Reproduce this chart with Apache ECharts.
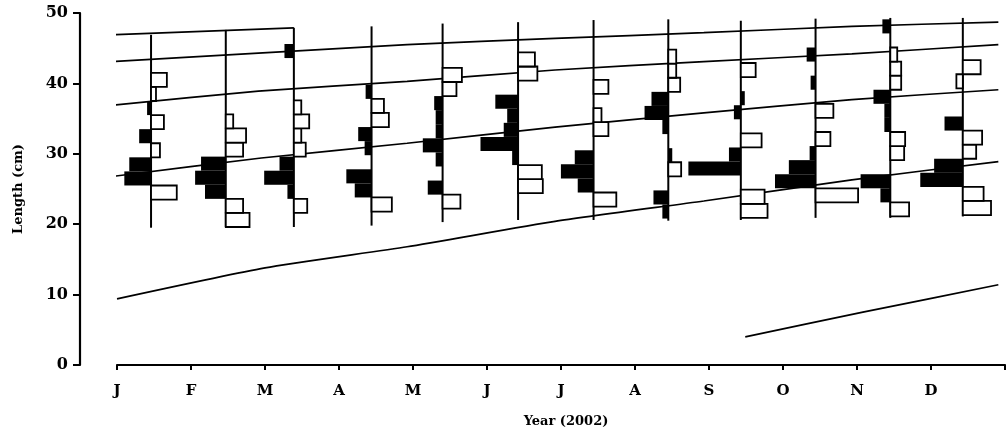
<!DOCTYPE html>
<html><head><meta charset="utf-8">
<script src="https://cdn.jsdelivr.net/npm/echarts@6/dist/echarts.min.js"></script>
<style>html,body{margin:0;padding:0;background:#fff}#c{width:1008px;height:434px}</style>
</head><body><div id="c"></div>
<script>
// ---- axis / category data ----
const monthLabels = ['J','F','M','A','M','J','J','A','S','O','N','D'];
const yTicks = [0, 10, 20, 30, 40, 50];

// sampling date of each monthly histogram (months after 1 Jan 2002)
const sampleTimes = [0.46, 1.47, 2.39, 3.44, 4.40, 5.42, 6.44, 7.45, 8.43, 9.44, 10.45, 11.43];
// length range (cm) covered by each histogram's vertical axis
const baselineBottom = [19.5, 19.6, 19.6, 19.8, 20.3, 20.6, 20.6, 20.5, 20.6, 20.9, 20.9, 21.1];
const baselineTop    = [46.9, 47.6, 47.9, 48.1, 48.5, 48.7, 49.0, 49.1, 48.9, 49.2, 49.3, 49.3];
// lower bound (cm) of the first 2-cm length class of each histogram
const classStart     = [19.5, 19.6, 19.6, 19.8, 20.2, 20.4, 20.5, 20.8, 20.9, 21.1, 21.1, 21.3];

// restructured frequencies per length class (from the lowest class upward)
// black bars = peaks (drawn to the left), white bars = troughs (drawn to the right)
const blackBars = [
  [0, 0, 0, 2.7, 2.2, 0, 1.2, 0, 0.4, 0, 0],
  [0, 0, 2.1, 3.1, 2.5, 0, 0, 0],
  [0, 0, 0.65, 3.0, 1.45, 0, 0, 0, 0, 0, 0, 0, 0.95],
  [0, 0, 1.7, 2.55, 0, 0.7, 1.35, 0, 0, 0.6],
  [0, 0, 1.5, 0, 0.7, 2.0, 0.7, 0.7, 0.85, 0, 0],
  [0, 0, 0, 0, 0.6, 3.8, 1.45, 1.1, 2.3, 0, 0, 0],
  [0, 0, 1.6, 3.3, 1.9, 0, 0, 0, 0, 0],
  [0.6, 1.5, 0, 0, -0.4, 0, 0.6, 2.4, 1.7, 0, 0, 0],
  [0, 0, 0, 5.3, 1.2, 0, 0, 0.7, -0.4, 0, 0],
  [0, 0, 4.1, 2.7, 0.6, 0, 0, 0, 0, 0.5, 0, 0.9],
  [0, 1.0, 3.0, 0, 0, 0, 0.6, 0.6, 1.7, 0, 0, 0, 0, 0.8],
  [0, 0, 4.3, 2.9, 0, 0, 1.85, 0, 0, 0, 0]
];
const whiteBars = [
  [0, 0, 2.6, 0, 0, 0.9, 0, 1.3, 0, 0.5, 1.6],
  [2.4, 1.75, 0, 0, 0, 1.75, 2.05, 0.75],
  [0, 1.35, 0, 0, 0, 1.2, 0.75, 1.55, 0.75, 0, 0, 0, 0],
  [0, 2.05, 0, 0, 0, 0, 0, 1.75, 1.25, 0],
  [0, 1.8, 0, 0, 0, 0, 0, 0, 0, 1.4, 1.95],
  [0, 0, 2.5, 2.4, 0, 0, 0, 0, 0, 0, 1.95, 1.7],
  [0, 2.3, 0, 0, 0, 0, 1.5, 0.8, 0, 1.5],
  [0, 0, 0, 1.3, 0, 0, 0, 0, 0, 1.2, 0.8, 0.8],
  [2.7, 2.4, 0, 0, 0, 2.1, 0, 0, 0, 0, 1.5],
  [0, 4.3, 0, 0, 0, 1.5, 0, 1.8, 0, 0, 0, 0],
  [1.9, 0, 0, 0, 1.4, 1.5, 0, 0, 0, 1.1, 1.1, 0.7, 0, 0],
  [2.85, 2.1, 0, 0, 1.35, 1.95, 0, 0, 0, -0.65, 1.8]
];

// growth curves: [time (months), length (cm)]
const growth1 = [[-0.05, 46.9], [2.39, 47.9]];
const growth2 = [[-0.05, 43.1], [1.91, 44.3], [3.92, 45.5], [5.92, 46.4], [7.93, 47.2], [9.93, 48.1], [11.91, 48.7]];
const growth3 = [[-0.05, 36.9], [1.91, 38.9], [3.92, 40.3], [5.92, 41.9], [7.93, 43.1], [9.93, 44.2], [11.91, 45.5]];
const growth4 = [[-0.05, 26.8], [1.95, 29.4], [3.92, 31.5], [5.92, 33.8], [7.93, 35.8], [9.93, 37.7], [11.91, 39.1]];
const growth5 = [[0, 9.4], [2.0, 13.8], [3.92, 16.8], [5.92, 20.4], [7.93, 23.3], [9.93, 26.3], [11.91, 28.9]];
const growth6 = [[8.49, 4.0], [10.08, 7.5], [11.91, 11.4]];

// ---- drawing constants ----
const CLASS_WIDTH = 2;       // cm
const BAR_SCALE = 0.1337;    // months of x-axis per frequency unit
const FONT = "'DejaVu Serif', 'Liberation Serif', serif";

const barData = [];
sampleTimes.forEach((t, m) => {
  blackBars[m].forEach((f, k) => {
    if (f) barData.push([t, classStart[m] + k * CLASS_WIDTH, classStart[m] + (k + 1) * CLASS_WIDTH, f, 0]);
  });
  whiteBars[m].forEach((f, k) => {
    if (f) barData.push([t, classStart[m] + k * CLASS_WIDTH, classStart[m] + (k + 1) * CLASS_WIDTH, f, 1]);
  });
});
const baseData = sampleTimes.map((t, m) => [t, baselineBottom[m], baselineTop[m]]);

const chart = echarts.init(document.getElementById('c'), null, {renderer: 'canvas'});
const lineSeries = [growth1, growth2, growth3, growth4, growth5, growth6].map(d => ({
  type: 'line', data: d, symbol: 'none', clip: false, smooth: 0.2, z: 2,
  lineStyle: {color: '#000', width: 1.7}, silent: true, animation: false
}));

chart.setOption({
  animation: false,
  backgroundColor: '#fff',
  grid: {left: 117, right: -7, top: 13, bottom: 69, containLabel: false},
  xAxis: {
    type: 'value', min: 0, max: 12, interval: 1,
    name: 'Year (2002)', nameLocation: 'middle', nameGap: 50,
    nameTextStyle: {fontFamily: FONT, fontWeight: 'bold', fontSize: 13, color: '#000', padding: [0, 0, 0, 10]},
    axisLine: {show: true, onZero: false, lineStyle: {color: '#000', width: 2.2}},
    axisTick: {show: true, length: 5, lineStyle: {color: '#000', width: 2}},
    axisLabel: {
      color: '#000', fontFamily: FONT, fontWeight: 'bold', fontSize: 15, margin: 19,
      formatter: v => (Number.isInteger(v) && monthLabels[v]) ? monthLabels[v] : ''
    },
    splitLine: {show: false}
  },
  yAxis: {
    type: 'value', min: yTicks[0], max: yTicks[yTicks.length - 1], interval: 10, offset: 37,
    name: 'Length (cm)', nameLocation: 'middle', nameGap: 55, nameRotate: 90,
    nameTextStyle: {fontFamily: FONT, fontWeight: 'bold', fontSize: 13, color: '#000'},
    axisLine: {show: true, onZero: false, lineStyle: {color: '#000', width: 2.2}},
    axisTick: {show: true, length: 7, lineStyle: {color: '#000', width: 2}},
    axisLabel: {color: '#000', fontFamily: FONT, fontWeight: 'bold', fontSize: 16, margin: 12},
    splitLine: {show: false}
  },
  series: lineSeries.concat([
    {
      type: 'custom', z: 3, silent: true, clip: false,
      data: baseData,
      renderItem: (params, api) => {
        const p1 = api.coord([api.value(0), api.value(1)]);
        const p2 = api.coord([api.value(0), api.value(2)]);
        return {type: 'line', shape: {x1: p1[0], y1: p1[1], x2: p2[0], y2: p2[1]},
                style: {stroke: '#000', lineWidth: 2}};
      }
    },
    {
      type: 'custom', z: 4, silent: true, clip: false,
      data: barData,
      renderItem: (params, api) => {
        const t = api.value(0), lo = api.value(1), hi = api.value(2), f = api.value(3), kind = api.value(4);
        const dir = kind === 0 ? -1 : 1;
        const pA = api.coord([t, hi]);
        const pB = api.coord([t + dir * f * BAR_SCALE, lo]);
        const x = Math.min(pA[0], pB[0]);
        const w = Math.abs(pB[0] - pA[0]);
        return {type: 'rect', shape: {x: x, y: pA[1], width: w, height: pB[1] - pA[1]},
                style: kind === 0 ? {fill: '#000'} : {fill: '#fff', stroke: '#000', lineWidth: 1.8}};
      }
    }
  ])
});
</script>
</body></html>
